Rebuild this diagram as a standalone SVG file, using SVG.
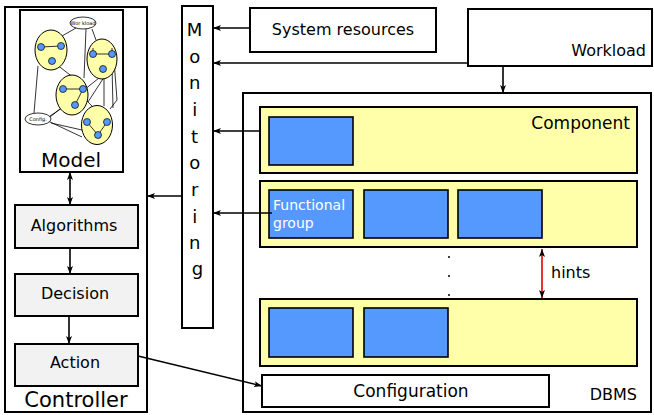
<svg xmlns="http://www.w3.org/2000/svg" width="654" height="415" viewBox="0 0 654 415">
  <style>
    text { font-family: "DejaVu Sans", "Liberation Sans", sans-serif; fill: #000; }
    .box { fill: #fff; stroke: #000; stroke-width: 2; }
    .step { fill: #f2f2f2; stroke: #000; stroke-width: 2; }
    .comp { fill: #ffffaa; stroke: #000; stroke-width: 2; }
    .fg { fill: #5599ff; stroke: #000; stroke-width: 1.6; }
    .wire { stroke: #000; stroke-width: 1.6; fill: none; }
    .g-edge { stroke: #000; stroke-width: 0.8; fill: none; }
    .cluster { fill: #ffffaa; stroke: #000; stroke-width: 1; }
    .dot { fill: #5599ff; stroke: #000; stroke-width: 0.7; }
    .tiny { fill: #fff; stroke: #000; stroke-width: 0.8; }
  </style>
  <defs>
    <marker id="arrow" viewBox="0 0 8 6" refX="8" refY="3" markerWidth="8" markerHeight="6" markerUnits="userSpaceOnUse" orient="auto-start-reverse">
      <path d="M0,0 L8,3 L0,6 L2,3 z" fill="#000"/>
    </marker>
  </defs>

  <rect width="654" height="415" fill="#fff"/>

  <!-- Controller -->
  <g id="controller">
    <rect class="box" x="5" y="7" width="142" height="405"/>
    <text x="76" y="407" font-size="21" text-anchor="middle">Controller</text>
  </g>

  <!-- Model with its small graph -->
  <g id="model">
    <rect class="box" x="20" y="10" width="103" height="162"/>
    <g id="model-graph">
      <!-- links between clusters -->
      <path class="g-edge" d="M76,28 L62,36 M86,29 L84,78 M92,29 L96,40 M52,61 L74,78 M38,66 L34,113 M50,116 L62,108 M51,123 L82,130 M50,117 L99,78 M104,69 L104,106 M108,71 L88,102 M114,60 L117,100 L110,109 M112,66 L113,108 M86,100 L92,106 M48,121 L82,137"/>
      <!-- clusters -->
      <ellipse class="cluster" cx="51" cy="50" rx="16" ry="20"/>
      <path class="g-edge" d="M41,47 L61,46"/>
      <circle class="dot" cx="41" cy="47" r="3.5"/>
      <circle class="dot" cx="61" cy="46" r="3.5"/>
      <circle class="dot" cx="52" cy="61" r="3.5"/>

      <ellipse class="cluster" cx="102" cy="59" rx="15" ry="20"/>
      <path class="g-edge" d="M93,54 L112,54 M93,54 L93,48 M112,54 L112,48"/>
      <circle class="dot" cx="93" cy="54" r="3.5"/>
      <circle class="dot" cx="112" cy="54" r="3.5"/>
      <circle class="dot" cx="103" cy="69" r="3.5"/>

      <ellipse class="cluster" cx="72" cy="95" rx="16" ry="20"/>
      <path class="g-edge" d="M63,89 L83,89 L75,105"/>
      <circle class="dot" cx="63" cy="89" r="3.5"/>
      <circle class="dot" cx="83" cy="89" r="3.5"/>
      <circle class="dot" cx="75" cy="105" r="3.5"/>

      <ellipse class="cluster" cx="97" cy="125" rx="15.5" ry="19.5"/>
      <path class="g-edge" d="M87,122 L98,135 L107,122"/>
      <circle class="dot" cx="87" cy="122" r="3.5"/>
      <circle class="dot" cx="107" cy="122" r="3.5"/>
      <circle class="dot" cx="98" cy="135" r="3.5"/>

      <ellipse class="tiny" cx="83" cy="23" rx="13" ry="6"/>
      <text x="83" y="25" font-size="5" text-anchor="middle">Wor kload</text>
      <ellipse class="tiny" cx="38" cy="119" rx="13" ry="6"/>
      <text x="38" y="121" font-size="5" text-anchor="middle">Config.</text>
    </g>
    <text x="71" y="167" font-size="20" text-anchor="middle">Model</text>
  </g>

  <g id="algorithms">
    <rect class="step" x="15" y="205" width="123" height="43"/>
    <text x="74" y="231" font-size="16" text-anchor="middle">Algorithms</text>
  </g>
  <g id="decision">
    <rect class="step" x="15" y="274" width="123" height="42"/>
    <text x="75" y="299" font-size="16" text-anchor="middle">Decision</text>
  </g>
  <g id="action">
    <rect class="step" x="15" y="344" width="123" height="42"/>
    <text x="75" y="368" font-size="16" text-anchor="middle">Action</text>
  </g>

  <!-- Monitoring column -->
  <g id="monitoring">
    <rect class="box" x="182" y="6" width="31" height="322"/>
    <text font-size="18" text-anchor="middle">
      <tspan x="197.5" y="36">M</tspan>
      <tspan x="197.5" y="63">o</tspan>
      <tspan x="197.5" y="89">n</tspan>
      <tspan x="197.5" y="116">i</tspan>
      <tspan x="197.5" y="143">t</tspan>
      <tspan x="197.5" y="169">o</tspan>
      <tspan x="197.5" y="196">r</tspan>
      <tspan x="197.5" y="223">i</tspan>
      <tspan x="197.5" y="249">n</tspan>
      <tspan x="197.5" y="275">g</tspan>
    </text>
  </g>

  <g id="system-resources">
    <rect class="box" x="250" y="8" width="186" height="44"/>
    <text x="343" y="35" font-size="16" text-anchor="middle">System resources</text>
  </g>

  <g id="workload">
    <rect class="box" x="468" y="9" width="184" height="57"/>
    <text x="646" y="56" font-size="16" text-anchor="end">Workload</text>
  </g>

  <!-- DBMS and its components -->
  <g id="dbms">
    <rect class="box" x="243" y="93" width="408" height="319"/>
    <text x="637" y="400" font-size="16" text-anchor="end">DBMS</text>
  </g>

  <g id="component">
    <rect class="comp" x="260" y="107" width="377" height="66"/>
    <rect class="fg" x="269" y="117" width="84" height="48"/>
    <text x="630" y="129" font-size="17" text-anchor="end">Component</text>
  </g>

  <g id="component-2">
    <rect class="comp" x="260" y="181" width="377" height="66"/>
    <rect class="fg" x="269" y="190" width="84" height="48"/>
    <rect class="fg" x="364" y="190" width="84" height="48"/>
    <rect class="fg" x="458" y="190" width="84" height="48"/>
    <text font-size="14" fill="#fff" style="fill:#fff">
      <tspan x="273" y="210">Functional</tspan>
      <tspan x="273" y="228">group</tspan>
    </text>
  </g>

  <g id="ellipsis">
    <circle cx="449" cy="257" r="1" fill="#000"/>
    <circle cx="449" cy="276" r="1" fill="#000"/>
    <circle cx="449" cy="295" r="1" fill="#000"/>
  </g>

  <g id="component-n">
    <rect class="comp" x="260" y="299" width="377" height="67"/>
    <rect class="fg" x="269" y="308" width="84" height="49"/>
    <rect class="fg" x="364" y="308" width="84" height="49"/>
  </g>

  <g id="configuration">
    <rect class="box" x="262" y="375" width="287" height="32"/>
    <text x="411" y="397" font-size="17" text-anchor="middle">Configuration</text>
  </g>

  <!-- Connectors -->
  <g id="connectors">
    <line class="wire" x1="250" y1="28" x2="213" y2="28" marker-end="url(#arrow)"/>
    <line class="wire" x1="468" y1="63" x2="213" y2="63" marker-end="url(#arrow)"/>
    <line class="wire" x1="503" y1="66" x2="503" y2="93" marker-end="url(#arrow)"/>
    <line class="wire" x1="260" y1="131" x2="213" y2="131" marker-end="url(#arrow)"/>
    <line class="wire" x1="272" y1="213" x2="213" y2="213" marker-end="url(#arrow)"/>
    <line class="wire" x1="182" y1="196" x2="147" y2="196" marker-end="url(#arrow)"/>
    <line class="wire" x1="70" y1="172" x2="70" y2="205" marker-start="url(#arrow)" marker-end="url(#arrow)"/>
    <line class="wire" x1="70" y1="248" x2="70" y2="274" marker-end="url(#arrow)"/>
    <line class="wire" x1="69" y1="316" x2="69" y2="344" marker-end="url(#arrow)"/>
    <line class="wire" x1="138" y1="356" x2="262" y2="386" marker-end="url(#arrow)"/>
    <line class="wire" x1="542" y1="249" x2="542" y2="298" stroke="#e00000" style="stroke:#e00000" marker-start="url(#arrow)" marker-end="url(#arrow)"/>
    <text x="551" y="278" font-size="16">hints</text>
  </g>
</svg>
